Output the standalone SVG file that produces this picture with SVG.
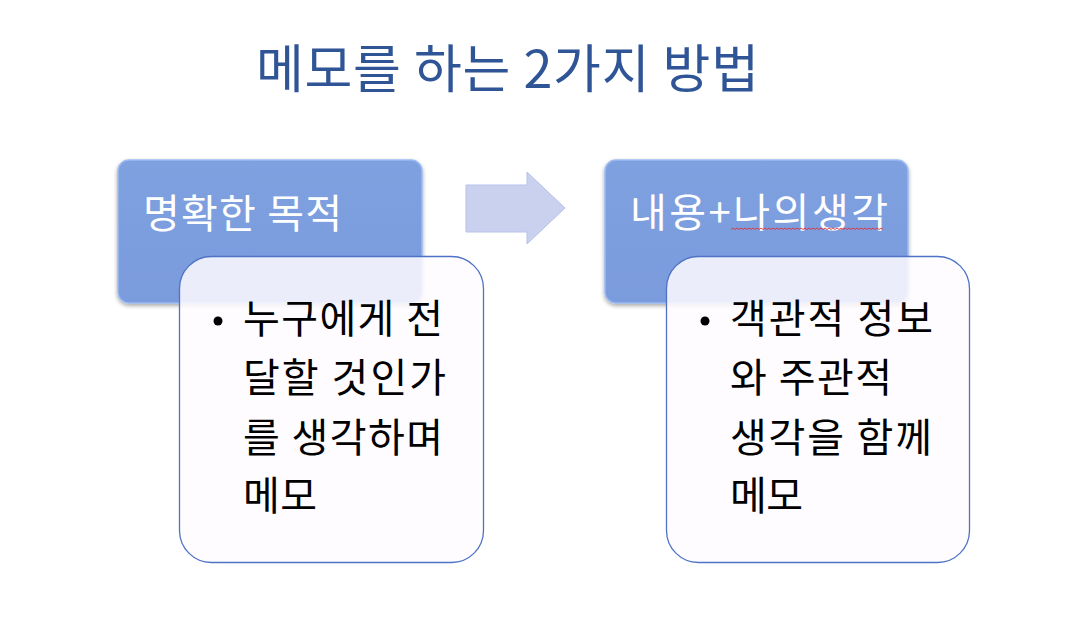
<svg xmlns="http://www.w3.org/2000/svg" width="1071" height="621" viewBox="0 0 1071 621">
<defs>
<linearGradient id="blueG" x1="0" y1="0" x2="0" y2="1">
<stop offset="0" stop-color="#7fa1e0"/>
<stop offset="1" stop-color="#7a9bdc"/>
</linearGradient>
<filter id="sh" x="-10%" y="-10%" width="120%" height="125%">
<feGaussianBlur in="SourceAlpha" stdDeviation="2"/>
<feOffset dy="2" result="b"/>
<feComponentTransfer><feFuncA type="linear" slope="0.35"/></feComponentTransfer>
<feMerge><feMergeNode/><feMergeNode in="SourceGraphic"/></feMerge>
</filter>
</defs>
<style>
.hdr{fill:url(#blueG);stroke:#9cbaf2;stroke-width:1.5}
.card{fill:#fffcff;fill-opacity:0.85;stroke:#4e73c6;stroke-width:1.3}
.ht{font-family:"Noto Sans CJK KR","Noto Sans",sans-serif;font-size:40px;fill:#ffffff}
.bt{font-family:"Noto Sans CJK KR","Noto Sans",sans-serif;font-size:40px;fill:#000000}
.title{font-family:"Noto Sans CJK KR","Noto Sans",sans-serif;font-size:52px;fill:#2f5597}
</style>
<rect width="1071" height="621" fill="#ffffff"/>
<text class="title" x="256" y="88" textLength="503" lengthAdjust="spacing">메모를 하는 2가지 방법</text>

<g id="node-left-header">
<rect class="hdr" x="118" y="160" width="304" height="143" rx="11" filter="url(#sh)"/>
<text class="ht" x="143" y="228" textLength="199" lengthAdjust="spacing">명확한 목적</text>
</g>
<g id="node-left-card">
<rect class="card" x="179.5" y="256.5" width="304" height="306" rx="32"/>
<circle cx="218" cy="321" r="4.5" fill="#000"/>
<text class="bt" x="243" y="333" textLength="200" lengthAdjust="spacing">누구에게 전</text>
<text class="bt" x="243" y="392" textLength="203" lengthAdjust="spacing">달할 것인가</text>
<text class="bt" x="243" y="452" textLength="200" lengthAdjust="spacing">를 생각하며</text>
<text class="bt" x="243" y="510" textLength="74" lengthAdjust="spacing">메모</text>
</g>

<g id="connectors">
<path d="M466,185 H527 V172 L565,208 L527,244 V232 H466 Z" fill="#c9d1ef" stroke="#b7c2e8" stroke-width="1"/>
</g>

<g id="node-right-header">
<rect class="hdr" x="605" y="160" width="303" height="143" rx="11" filter="url(#sh)"/>
<text class="ht" x="630" y="227" textLength="258" lengthAdjust="spacing">내용+나의생각</text>
<path d="M731,229.5 l2,-1.5 l2,1.5 l2,-1.5 l2,1.5 l2,-1.5 l2,1.5 l2,-1.5 l2,1.5 l2,-1.5 l2,1.5 l2,-1.5 l2,1.5 l2,-1.5 l2,1.5 l2,-1.5 l2,1.5 l2,-1.5 l2,1.5 l2,-1.5 l2,1.5 l2,-1.5 l2,1.5 l2,-1.5 l2,1.5 l2,-1.5 l2,1.5 l2,-1.5 l2,1.5 l2,-1.5 l2,1.5 l2,-1.5 l2,1.5 l2,-1.5 l2,1.5 l2,-1.5 l2,1.5 l2,-1.5 l2,1.5 l2,-1.5 l2,1.5 l2,-1.5 l2,1.5 l2,-1.5 l2,1.5 l2,-1.5 l2,1.5 l2,-1.5 l2,1.5 l2,-1.5 l2,1.5 l2,-1.5 l2,1.5 l2,-1.5 l2,1.5 l2,-1.5 l2,1.5 l2,-1.5 l2,1.5 l2,-1.5 l2,1.5 l2,-1.5 l2,1.5 l2,-1.5 l2,1.5 l2,-1.5 l2,1.5 l2,-1.5 l2,1.5 l2,-1.5 l2,1.5 l2,-1.5 l2,1.5 l2,-1.5 l2,1.5 l2,-1.5 l2,1.5" fill="none" stroke="#e0303a" stroke-width="0.9"/>
</g>
<g id="node-right-card">
<rect class="card" x="666.5" y="256.5" width="303" height="306" rx="32"/>
<circle cx="705" cy="321" r="4.5" fill="#000"/>
<text class="bt" x="730" y="333" textLength="203" lengthAdjust="spacing">객관적 정보</text>
<text class="bt" x="730" y="392" textLength="162" lengthAdjust="spacing">와 주관적</text>
<text class="bt" x="730" y="452" textLength="202" lengthAdjust="spacing">생각을 함께</text>
<text class="bt" x="730" y="510" textLength="73" lengthAdjust="spacing">메모</text>
</g>
</svg>
